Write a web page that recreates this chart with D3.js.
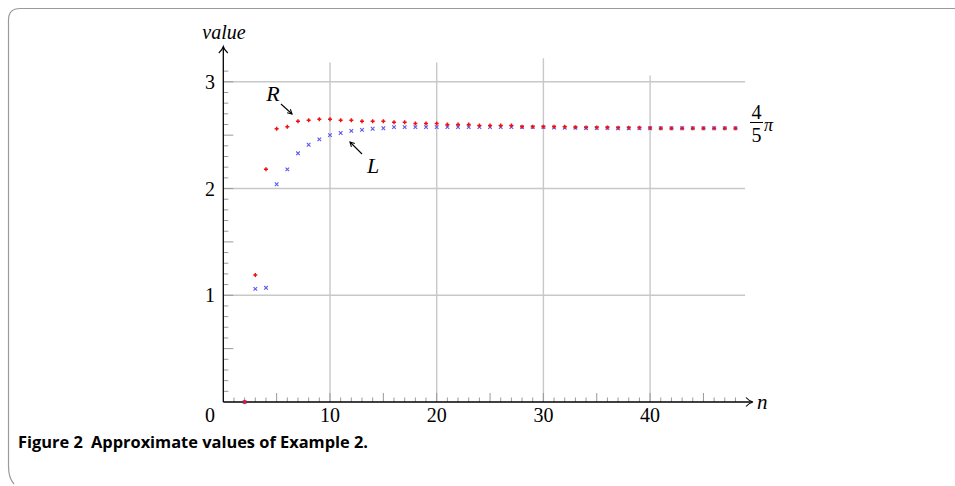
<!DOCTYPE html>
<html><head><meta charset="utf-8">
<script src="https://cdn.jsdelivr.net/npm/d3@7"></script>
<style>body{margin:0;background:#fff}svg{display:block}</style>
</head><body>
<svg id="c" width="955" height="486"></svg>
<script>
const nValues = d3.range(2, 49);
const rValues = [0, 1.19, 2.18, 2.56, 2.58, 2.63, 2.64, 2.65, 2.65, 2.64, 2.64, 2.63, 2.63, 2.63, 2.62, 2.62, 2.61, 2.61, 2.61, 2.60, 2.60, 2.60, 2.59, 2.59, 2.59, 2.59, 2.58, 2.58, 2.58, 2.58, 2.58, 2.575, 2.572, 2.572, 2.572, 2.57, 2.57, 2.57, 2.567, 2.565, 2.565, 2.565, 2.565, 2.565, 2.565, 2.565, 2.565];
const lValues = [0, 1.06, 1.07, 2.04, 2.18, 2.33, 2.41, 2.46, 2.50, 2.52, 2.54, 2.55, 2.56, 2.565, 2.575, 2.575, 2.575, 2.575, 2.575, 2.575, 2.575, 2.575, 2.575, 2.575, 2.575, 2.575, 2.575, 2.575, 2.575, 2.572, 2.57, 2.57, 2.567, 2.567, 2.567, 2.565, 2.565, 2.565, 2.565, 2.565, 2.565, 2.565, 2.565, 2.565, 2.565, 2.565, 2.565];
const xTickLabels = [10, 20, 30, 40];
const yTickLabels = [1, 2, 3];
const gridTops = [3.18, 3.18, 3.22, 3.06];
const caption = "Figure 2\u2002Approximate values of Example 2.";

const svg = d3.select("#c");
const x = d3.scaleLinear().domain([0, 10]).range([223.3, 330]);
const y = d3.scaleLinear().domain([0, 3]).range([402, 81.8]);

// frame
svg.append("path")
  .attr("d", "M955,8.5 H20 Q8.5,8.5 8.5,20 V466 Q8.5,478 14,484")
  .attr("fill", "none").attr("stroke", "#9a9a9a").attr("stroke-width", 1.2);

const grid = "#c8c8c8";
svg.append("g").selectAll("line").data(yTickLabels).join("line")
  .attr("x1", x(0)).attr("x2", x(48.9))
  .attr("y1", d => y(d)).attr("y2", d => y(d))
  .attr("stroke", grid).attr("stroke-width", 1.4);
svg.append("g").selectAll("line").data(xTickLabels).join("line")
  .attr("x1", d => x(d)).attr("x2", d => x(d))
  .attr("y1", y(0)).attr("y2", (d, i) => y(gridTops[i]))
  .attr("stroke", grid).attr("stroke-width", 1.4);

// minor ticks
const xt = d3.range(1, 49);
svg.append("g").selectAll("line").data(xt).join("line")
  .attr("x1", d => x(d)).attr("x2", d => x(d))
  .attr("y1", y(0)).attr("y2", d => y(0) - (d % 5 === 0 ? 9 : 4.5))
  .attr("stroke", "#999").attr("stroke-width", 1);
const yt = d3.range(1, 32).map(d => d / 10);
svg.append("g").selectAll("line").data(yt).join("line")
  .attr("y1", d => y(d)).attr("y2", d => y(d))
  .attr("x1", x(0)).attr("x2", d => x(0) + (Math.round(d * 10) % 5 === 0 ? 10 : 5))
  .attr("stroke", "#999").attr("stroke-width", 1);

// axes
svg.append("line").attr("x1", x(0)).attr("x2", 752).attr("y1", y(0)).attr("y2", y(0))
  .attr("stroke", "#000").attr("stroke-width", 1.3);
svg.append("line").attr("x1", x(0)).attr("x2", x(0)).attr("y1", y(0)).attr("y2", 47)
  .attr("stroke", "#000").attr("stroke-width", 1.3);
svg.append("path").attr("d", `M746,${y(0)-4.5} Q749,${y(0)-1} 753,${y(0)} Q749,${y(0)+1} 746,${y(0)+4.5}`)
  .attr("fill", "none").attr("stroke", "#000").attr("stroke-width", 1.1);
svg.append("path").attr("d", `M${x(0)-4.5},53 Q${x(0)-1},50 ${x(0)},46.5 Q${x(0)+1},50 ${x(0)+4.5},53`)
  .attr("fill", "none").attr("stroke", "#000").attr("stroke-width", 1.1);

const serif = "'Liberation Serif', 'DejaVu Serif', serif";
const fs = 20;
svg.append("text").attr("x", 210).attr("y", 422).attr("text-anchor", "middle")
  .attr("font-family", serif).attr("font-size", fs).text("0");
svg.append("g").selectAll("text").data(xTickLabels).join("text")
  .attr("x", d => x(d)).attr("y", 422).attr("text-anchor", "middle")
  .attr("font-family", serif).attr("font-size", fs).text(d => d);
svg.append("g").selectAll("text").data(yTickLabels).join("text")
  .attr("x", 210).attr("y", d => y(d) + 7).attr("text-anchor", "middle")
  .attr("font-family", serif).attr("font-size", fs).text(d => d);

svg.append("text").attr("x", 224).attr("y", 39).attr("text-anchor", "middle")
  .attr("font-family", serif).attr("font-style", "italic").attr("font-size", 20).text("value");
svg.append("text").attr("x", 757).attr("y", 409)
  .attr("font-family", serif).attr("font-style", "italic").attr("font-size", 21).text("n");

// markers
const L = nValues.map((n, i) => [n, lValues[i]]);
const R = nValues.map((n, i) => [n, rValues[i]]);
const s = 1.8;
svg.append("g").selectAll("path").data(L).join("path")
  .attr("d", d => `M${x(d[0])-s},${y(d[1])-s}L${x(d[0])+s},${y(d[1])+s}M${x(d[0])-s},${y(d[1])+s}L${x(d[0])+s},${y(d[1])-s}`)
  .attr("stroke", "#5a5af0").attr("stroke-width", 1.1).attr("fill", "none");
const p = 2.0;
svg.append("g").selectAll("path").data(R).join("path")
  .attr("d", d => `M${x(d[0])-p},${y(d[1])}L${x(d[0])+p},${y(d[1])}M${x(d[0])},${y(d[1])-p}L${x(d[0])},${y(d[1])+p}`)
  .attr("stroke", "#f01010").attr("stroke-width", 1.5).attr("fill", "none");

// annotations
svg.append("text").attr("x", 273).attr("y", 101).attr("text-anchor", "middle")
  .attr("font-family", serif).attr("font-style", "italic").attr("font-size", 22).text("R");
svg.append("text").attr("x", 373).attr("y", 173).attr("text-anchor", "middle")
  .attr("font-family", serif).attr("font-style", "italic").attr("font-size", 22).text("L");
function arrow(x1, y1, x2, y2) {
  svg.append("line").attr("x1", x1).attr("y1", y1).attr("x2", x2).attr("y2", y2)
    .attr("stroke", "#000").attr("stroke-width", 1.1);
  const a = Math.atan2(y2 - y1, x2 - x1), h = 5;
  const p1 = [x2 - h * Math.cos(a - 0.5), y2 - h * Math.sin(a - 0.5)];
  const p2 = [x2 - h * Math.cos(a + 0.5), y2 - h * Math.sin(a + 0.5)];
  svg.append("path").attr("d", `M${p1}L${x2},${y2}L${p2}`).attr("fill", "none")
    .attr("stroke", "#000").attr("stroke-width", 1.1);
}
arrow(281, 104, 292, 114);
arrow(362, 154, 350, 142);

// 4/5 pi
svg.append("text").attr("x", 756.5).attr("y", 119).attr("text-anchor", "middle")
  .attr("font-family", serif).attr("font-size", 20).text("4");
svg.append("line").attr("x1", 750).attr("x2", 763).attr("y1", 122.5).attr("y2", 122.5)
  .attr("stroke", "#000").attr("stroke-width", 1);
svg.append("text").attr("x", 756.5).attr("y", 142).attr("text-anchor", "middle")
  .attr("font-family", serif).attr("font-size", 20).text("5");
svg.append("text").attr("x", 764).attr("y", 131)
  .attr("font-family", serif).attr("font-style", "italic").attr("font-size", 18).text("π");

// caption
svg.append("text").attr("x", 18).attr("y", 448)
  .attr("font-family", "'Open Sans', 'Noto Sans', sans-serif").attr("font-weight", "bold")
  .attr("font-size", 16.4).text(caption);
</script>
</body></html>
